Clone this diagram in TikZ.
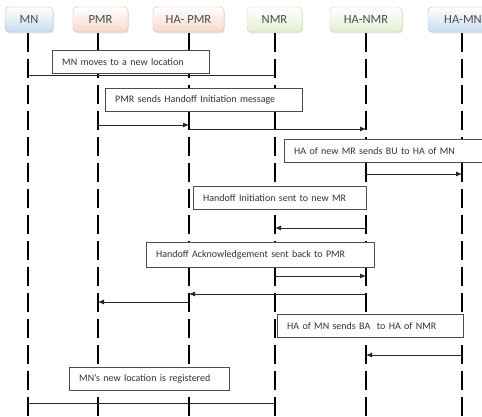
\documentclass[tikz,border=0pt]{standalone}
\usepackage{fontspec}
\setmainfont{Carlito}
\usepackage{tikz}
\usetikzlibrary{positioning,shadows,arrows.meta}

\definecolor{BlueLine}{HTML}{9FBDE6}
\definecolor{BlueFill}{HTML}{C9DBF2}
\definecolor{PeachLine}{HTML}{DDAE98}
\definecolor{PeachFill}{HTML}{F6D9C9}
\definecolor{GreenLine}{HTML}{C3D4A3}
\definecolor{GreenFill}{HTML}{E6EED5}

\begin{document}
\begin{tikzpicture}[
    x=1pt, y=-1pt,
    >={Latex[length=6pt,width=5pt]},
    head/.style={draw,
                 rounded corners=4pt,
                 minimum height=25pt,
                 inner sep=2pt,
                 font=\fontsize{12.5}{14}\selectfont,
                 text=black!70,
                 drop shadow={opacity=0.2, shadow xshift=1pt, shadow yshift=-1.5pt}},
    bluehead/.style={head, draw=BlueLine, top color=white, bottom color=BlueFill},
    peachhead/.style={head, draw=PeachLine, top color=white, bottom color=PeachFill},
    greenhead/.style={head, draw=GreenLine, top color=white, bottom color=GreenFill},
    life/.style={line width=1.8pt, dash pattern=on 19pt off 7pt},
    note/.style={draw=black!70,
                 fill=white,
                 anchor=north west,
                 align=left,
                 inner xsep=10pt,
                 inner ysep=0pt,
                 minimum height=23pt,
                 font=\fontsize{10}{12}\selectfont,
                 text=black!80},
    msg/.style={->, draw=black!85, line width=0.8pt},
    plain/.style={draw=black!85, line width=0.8pt}]

    \useasboundingbox (0,0) rectangle (482,417);

    % participants
    \node[bluehead,  minimum width=48pt] (mn)    at (29,19.5)    {MN};
    \node[peachhead, minimum width=55pt] (pmr)   at (100.5,19.5) {PMR};
    \node[peachhead, minimum width=71pt] (hapmr) at (188.5,19.5) {HA- PMR};
    \node[greenhead, minimum width=55pt] (nmr)   at (274.5,19.5) {NMR};
    \node[greenhead, minimum width=72pt] (hanmr) at (366,19.5)   {HA-NMR};
    \node[bluehead,  minimum width=70pt] (hamn)  at (463,19.5)   {HA-MN};

    % lifelines
    \foreach \p/\x in {mn/28, pmr/98, hapmr/189, nmr/275, hanmr/366, hamn/462} {
        \coordinate (\p-top) at (\x,33);
        \coordinate (\p-end) at (\x,417);
        \draw[life] (\p-top) -- (\p-end);
    }

    % messages
    \node[note, text width=137pt] (n1) at (52,50)  {MN moves to a new location};
    \draw[plain] (mn-top |- 0,75) -- (nmr-top |- 0,75);

    \node[note, text width=177pt] (n2) at (105,88) {PMR sends Handoff Initiation message};
    \draw[msg] (pmr-top |- 0,125) -- (hapmr-top |- 0,125);
    \draw[msg] (hapmr-top |- 0,129) -- (hanmr-top |- 0,129);

    \node[note, text width=180pt] (n3) at (284,139) {HA of new MR sends BU to HA of MN};
    \draw[msg] (hanmr-top |- 0,174) -- (hamn-top |- 0,174);

    \node[note, text width=153pt] (n4) at (193,186) {Handoff Initiation sent to new MR};
    \draw[msg] (hanmr-top |- 0,228) -- (nmr-top |- 0,228);

    \node[note, text width=208pt, minimum height=25pt] (n5) at (146,242) {Handoff Acknowledgement sent back to PMR};
    \draw[msg] (nmr-top |- 0,276) -- (hanmr-top |- 0,276);
    \draw[msg] (hanmr-top |- 0,294) -- (hapmr-top |- 0,294);
    \draw[msg] (hapmr-top |- 0,302) -- (pmr-top |- 0,302);

    \node[note, text width=166pt] (n6) at (277,314) {HA of MN sends BA\ \ to HA of NMR};
    \draw[msg] (hamn-top |- 0,355) -- (hanmr-top |- 0,355);

    \node[note, text width=140pt] (n7) at (69,367) {MN’s new location is registered};
    \draw[plain] (mn-top |- 0,403) -- (nmr-top |- 0,403);

\end{tikzpicture}
\end{document}
